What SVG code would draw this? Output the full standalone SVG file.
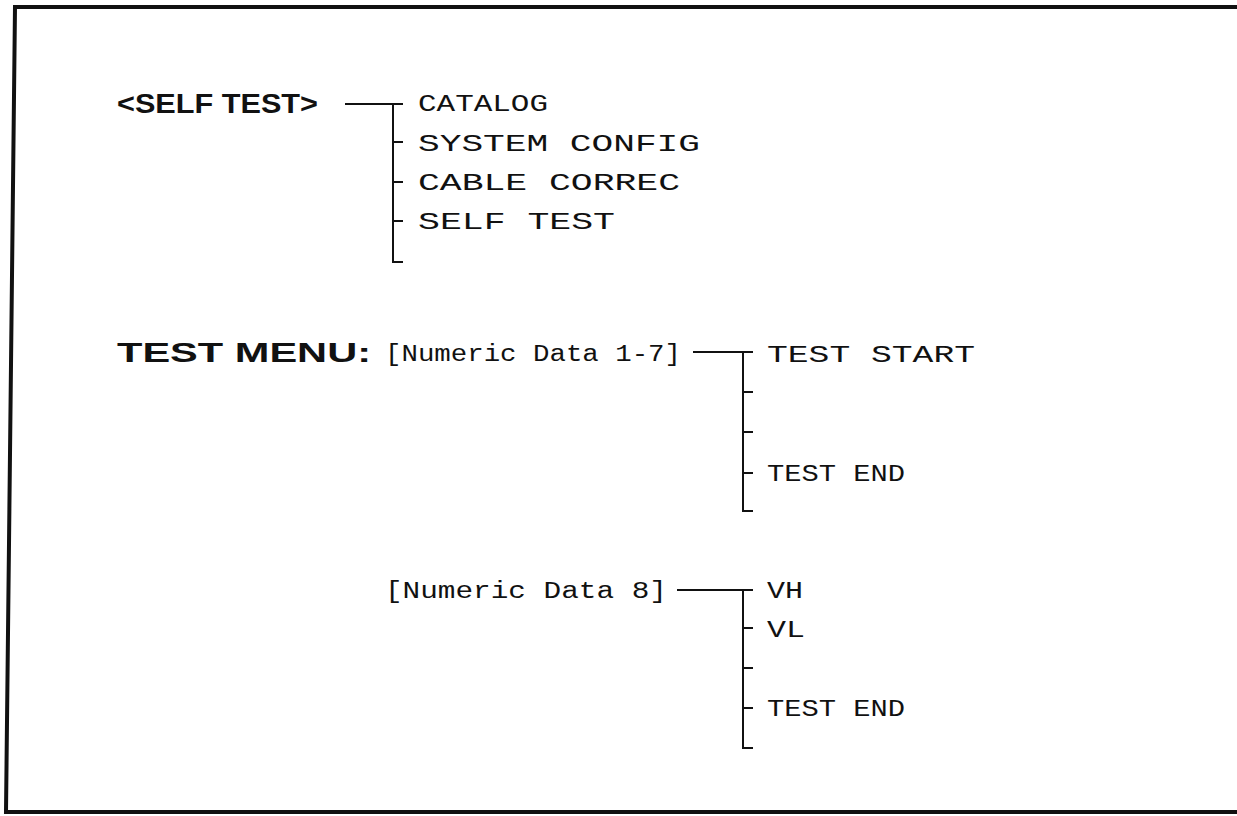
<svg xmlns="http://www.w3.org/2000/svg" width="1237" height="816" viewBox="0 0 1237 816">
<style>
.bold{font-family:"Liberation Sans",Arial,sans-serif;font-weight:bold;font-size:28px;fill:#111}
.lbl{font-family:"Liberation Mono","DejaVu Sans Mono",monospace;font-size:23px;fill:#111}
.ln{stroke:#111;stroke-width:2;fill:none}
.frame{stroke:#111;stroke-width:4;fill:none}
</style>
<rect width="1237" height="816" fill="#fff"/>
<path class="frame" d="M1237,7 L15,7 L6,812 L1237,812"/>
<g id="connectors">
  <path class="ln" d="M345,104 H403 M393,104 V262 H403 M393,142 H403 M393,182 H403 M393,221 H403"/>
  <path class="ln" d="M693,352 H753 M743,352 V511 H753 M743,392 H753 M743,432 H753 M743,473 H753"/>
  <path class="ln" d="M677,590 H753 M743,590 V748 H753 M743,628 H753 M743,668 H753 M743,708 H753"/>
</g>
<g id="selftest"><text class="bold" x="117" y="113" textLength="201" lengthAdjust="spacingAndGlyphs">&lt;SELF TEST&gt;</text></g>
<g id="catalog"><text class="lbl" x="418" y="111" textLength="130" lengthAdjust="spacingAndGlyphs">CATALOG</text></g>
<g id="sysconfig"><text class="lbl" x="418" y="151" textLength="282" lengthAdjust="spacingAndGlyphs">SYSTEM CONFIG</text></g>
<g id="cablecorrec"><text class="lbl" x="418" y="190" textLength="262" lengthAdjust="spacingAndGlyphs">CABLE CORREC</text></g>
<g id="selftest2"><text class="lbl" x="418" y="229" textLength="197" lengthAdjust="spacingAndGlyphs">SELF TEST</text></g>
<g id="testmenu"><text class="bold" x="117" y="362" textLength="254" lengthAdjust="spacingAndGlyphs">TEST MENU:</text></g>
<g id="numeric17"><text class="lbl" x="385" y="361" textLength="296" lengthAdjust="spacingAndGlyphs">[Numeric Data 1-7]</text></g>
<g id="teststart"><text class="lbl" x="767" y="362" textLength="208" lengthAdjust="spacingAndGlyphs">TEST START</text></g>
<g id="testend1"><text class="lbl" x="767" y="481" textLength="138" lengthAdjust="spacingAndGlyphs">TEST END</text></g>
<g id="numeric8"><text class="lbl" x="385" y="598" textLength="282" lengthAdjust="spacingAndGlyphs">[Numeric Data 8]</text></g>
<g id="vh"><text class="lbl" x="767" y="598" textLength="36" lengthAdjust="spacingAndGlyphs">VH</text></g>
<g id="vl"><text class="lbl" x="767" y="637" textLength="38" lengthAdjust="spacingAndGlyphs">VL</text></g>
<g id="testend2"><text class="lbl" x="767" y="716" textLength="138" lengthAdjust="spacingAndGlyphs">TEST END</text></g>
</svg>
